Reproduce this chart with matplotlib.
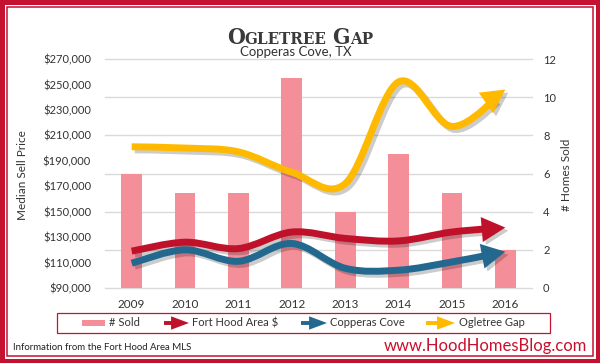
import numpy as np
import matplotlib
matplotlib.use("Agg")
import matplotlib.pyplot as plt
from matplotlib.path import Path
from matplotlib.patches import FancyArrowPatch, Rectangle, ArrowStyle, PathPatch
from matplotlib.bezier import split_de_casteljau
import matplotlib.patheffects as pe
from matplotlib import font_manager as fm

# ---------------- data ----------------
years = ["2009", "2010", "2011", "2012", "2013", "2014", "2015", "2016"]
homes_sold = [6, 5, 5, 11, 4, 7, 5, 2]
fort_hood_area = [119000, 126000, 121000, 134000, 129000, 127000, 134000, 137500]
copperas_cove = [109500, 120000, 111000, 125000, 105500, 104000, 110500, 118500]
ogletree_gap = [201000, 200000, 197000, 181000, 172000, 252000, 217000, 246000]
price_ticks = [90000, 110000, 130000, 150000, 170000, 190000, 210000, 230000, 250000, 270000]
count_ticks = [0, 2, 4, 6, 8, 10, 12]
series_names = ["# Sold", "Fort Hood Area $", "Copperas Cove", "Ogletree Gap"]
title_text = "Ogletree Gap"
subtitle_text = "Copperas Cove, TX"

# ---------------- style ----------------
RED = "#C0112B"
BLUE = "#23698F"
YELLOW = "#FFBA00"
PINK = "#F48E99"
GRID = "#DADADA"
TXT = "#333333"
FRAME = "#C41230"


def pick(fams):
    for f in fams:
        try:
            fm.findfont(fm.FontProperties(family=f), fallback_to_default=False)
            return f
        except Exception:
            pass
    return "DejaVu Sans"


BODY = pick(["Lato", "Open Sans", "DejaVu Sans"])
plt.rcParams["font.family"] = [BODY, "DejaVu Sans"]

W, H = 600, 363
fig = plt.figure(figsize=(6, 3.63), dpi=100)
fig.patch.set_facecolor(FRAME)


def fx(px):
    return px / W


def fy(py):
    return 1 - py / H


# frame
fig.add_artist(Rectangle((fx(4.5), 4.5 / H), (W - 9) / W, (H - 9) / H,
                         transform=fig.transFigure, facecolor="white",
                         edgecolor="none", zorder=-10))
fig.add_artist(Rectangle((fx(6.8), 6.8 / H), (W - 13.6) / W, (H - 13.6) / H,
                         transform=fig.transFigure, facecolor="none",
                         edgecolor=FRAME, lw=1.1, zorder=-9))

rect = [fx(105), fy(288), 427 / W, 229 / H]
ax_b = fig.add_axes(rect)
ax_l = fig.add_axes(rect, sharex=ax_b)
ax_l.set_zorder(ax_b.get_zorder() + 1)
ax_l.patch.set_visible(False)
ax_b.patch.set_visible(False)

x = np.arange(len(years))

# bars (right axis)
ax_b.bar(x, homes_sold, width=0.39, color=PINK, zorder=2)
ax_b.set_ylim(0, 12)
ax_b.set_yticks(count_ticks)
ax_b.set_yticklabels([str(v) for v in count_ticks])
ax_b.yaxis.tick_right()
ax_b.set_axisbelow(True)
ax_b.grid(axis="y", color=GRID, lw=1.0)
for gl in ax_b.get_ygridlines():
    gl.set_clip_on(False)
ax_b.tick_params(axis="y", length=0, pad=8, labelsize=8, labelcolor=TXT)
ax_b.tick_params(axis="x", length=0, labelbottom=False)

# lines (left axis)
ax_l.set_ylim(90000, 270000)
ax_l.set_yticks(price_ticks)
ax_l.set_yticklabels([f"${v:,.0f}" for v in price_ticks])
ax_l.set_xlim(-0.5, len(years) - 0.5)
ax_l.set_xticks(x)
ax_l.set_xticklabels(years)
ax_l.tick_params(axis="y", length=0, pad=10, labelsize=8, labelcolor=TXT)
ax_l.tick_params(axis="x", length=0, pad=8, labelsize=8.5, labelcolor=TXT)
ax_l.yaxis.tick_left()

for a in (ax_b, ax_l):
    for s in a.spines.values():
        s.set_visible(False)


def smooth_ctrl(xs, ys):
    P = np.column_stack([xs, ys]).astype(float)
    n = len(P)
    segs = []
    for i in range(n - 1):
        p0 = P[i - 1] if i > 0 else P[i]
        p3 = P[i + 2] if i + 2 < n else P[i + 1]
        c1 = P[i] + (P[i + 1] - p0) / 6.0
        c2 = P[i + 1] - (p3 - P[i]) / 6.0
        segs.append(np.array([P[i], c1, c2, P[i + 1]]))
    return segs


def bez(ctrl, t):
    return ((1 - t) ** 3) * ctrl[0] + 3 * (1 - t) ** 2 * t * ctrl[1] + \
        3 * (1 - t) * t ** 2 * ctrl[2] + t ** 3 * ctrl[3]


HEAD_LEN_PT, HEAD_W_PT = 17.0, 9.0
px_per_pt = fig.dpi / 72.0
line_shadow = [pe.SimpleLineShadow(offset=(2.2, -2.2), shadow_color="black", alpha=0.2),
               pe.Normal()]
patch_shadow = [pe.SimplePatchShadow(offset=(2.2, -2.2), shadow_rgbFace="black", alpha=0.2),
                pe.Normal()]

for vals, col, z in [(ogletree_gap, YELLOW, 3), (fort_hood_area, RED, 4),
                     (copperas_cove, BLUE, 5)]:
    segs = smooth_ctrl(x, vals)
    last = segs[-1]
    disp = ax_l.transData.transform(last)
    tip = disp[-1]
    stop = 0.6 * HEAD_LEN_PT * px_per_pt
    lo, hi = 0.0, 1.0
    for _ in range(40):
        mid = 0.5 * (lo + hi)
        if np.hypot(*(bez(disp, mid) - tip)) > stop:
            lo = mid
        else:
            hi = mid
    left, _right = split_de_casteljau(last, lo)
    verts = [segs[0][0]]
    codes = [Path.MOVETO]
    for s in segs[:-1]:
        verts += list(s[1:])
        codes += [Path.CURVE4] * 3
    verts += list(np.asarray(left)[1:])
    codes += [Path.CURVE4] * 3
    shaft = PathPatch(Path(np.array(verts), codes), facecolor="none", edgecolor=col,
                      lw=5, capstyle="butt", joinstyle="round", zorder=z,
                      transform=ax_l.transData, clip_on=False)
    shaft.set_path_effects(line_shadow)
    ax_l.add_artist(shaft)
    head = FancyArrowPatch(tuple(last[2]), tuple(last[3]),
                           arrowstyle=ArrowStyle("-|>", head_length=HEAD_LEN_PT,
                                                 head_width=HEAD_W_PT),
                           mutation_scale=1, lw=0, color=col, shrinkA=0, shrinkB=0,
                           transform=ax_l.transData, zorder=z + 0.5, clip_on=False)
    head.set_path_effects(patch_shadow)
    ax_l.add_artist(head)

# axis titles
fig.text(fx(23), fy(175), "Median Sell Price", rotation=90, ha="center",
         va="center", fontsize=8.5, color=TXT)
fig.text(fx(567), fy(175), "# Homes Sold", rotation=90, ha="center",
         va="center", fontsize=8.5, color=TXT)

# title with small caps
serif_cond = None
try:
    p = fm.findfont(fm.FontProperties(family="DejaVu Serif", weight="bold",
                                      stretch="condensed"), fallback_to_default=False)
    if "Condensed" in p:
        serif_cond = fm.FontProperties(fname=p)
except Exception:
    pass
if serif_cond is None:
    serif_cond = fm.FontProperties(family="Liberation Serif", weight="bold")

renderer = fig.canvas.get_renderer()
big, small = 19.0, 14.0
pieces = []
for wi, word in enumerate(title_text.split()):
    pieces.append((word[0].upper(), True, wi > 0))
    pieces.append((word[1:].upper(), False, False))


def build(scale):
    objs = []
    for s, isbig, gap in pieces:
        fp = serif_cond.copy()
        fp.set_size((big if isbig else small) * scale)
        t = fig.text(0, fy(43.5), s, fontproperties=fp, color="#3A3A3A",
                     va="baseline", ha="left")
        objs.append((t, gap))
    return objs


objs = build(1.0)
gap_px = 6


def total_width(objs):
    tw = 0
    for t, gap in objs:
        tw += t.get_window_extent(renderer).width + (gap_px if gap else 0)
    return tw


tw = total_width(objs)
scale = min(1.0, 146.0 / tw)
if scale < 1.0:
    for t, _ in objs:
        t.remove()
    objs = build(scale)
    tw = total_width(objs)
xpos = 300 - tw / 2
for t, gap in objs:
    if gap:
        xpos += gap_px
    t.set_x(fx(xpos))
    xpos += t.get_window_extent(renderer).width

fig.text(fx(295.5), fy(52.5), subtitle_text, ha="center", va="center",
         fontsize=9.5, color=TXT)

# legend
fig.add_artist(Rectangle((fx(57), fy(333)), 493 / W, 20 / H, transform=fig.transFigure,
                         facecolor="white", edgecolor=FRAME, lw=0.9, zorder=5))
ly = 323
fig.add_artist(Rectangle((fx(82), fy(326)), 23 / W, 6 / H, transform=fig.transFigure,
                         facecolor=PINK, edgecolor="none", zorder=6))
fig.text(fx(109), fy(ly), series_names[0], ha="left", va="center", fontsize=8,
         color=TXT, zorder=6)
for (x0, x1, tx), col, name in zip([(164, 189, 192), (301, 327, 330), (426, 455, 459)],
                                   [RED, BLUE, YELLOW], series_names[1:]):
    a = FancyArrowPatch((fx(x0), fy(ly)), (fx(x1), fy(ly)), transform=fig.transFigure,
                        arrowstyle=ArrowStyle("-|>", head_length=7.5, head_width=2.8),
                        mutation_scale=1, lw=2.8, color=col, shrinkA=0, shrinkB=0,
                        joinstyle="miter", capstyle="butt", zorder=6)
    fig.add_artist(a)
    fig.text(fx(tx), fy(ly), name, ha="left", va="center", fontsize=8, color=TXT,
             zorder=6)

fig.text(fx(13), fy(348), "Information from the Fort Hood Area MLS", ha="left",
         va="center", fontsize=6.9, color="#222222")
fig.text(fx(587), fy(346), "www.HoodHomesBlog.com", ha="right", va="center",
         fontsize=12, color="#C8102E")

fig.savefig("out.png", dpi=100, facecolor=fig.get_facecolor())
